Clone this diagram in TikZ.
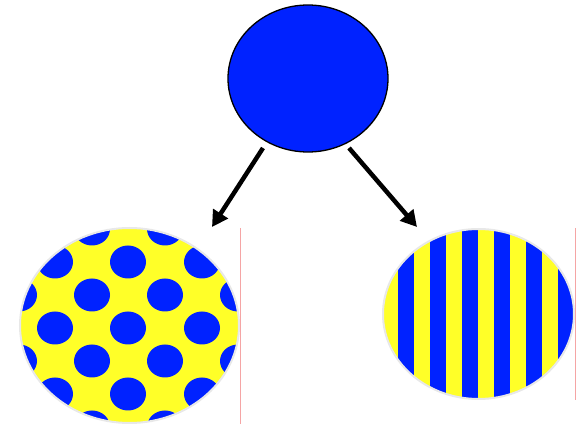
\documentclass[tikz,border=0pt]{standalone}
\usetikzlibrary{arrows.meta,shapes.geometric}
\definecolor{pblue}{RGB}{0,34,255}
\definecolor{pyellow}{RGB}{255,255,40}
\definecolor{rimgray}{RGB}{232,232,232}
\definecolor{pinkline}{RGB}{245,165,165}
\tikzset{
  topball/.style={ellipse, fill=pblue, draw=black, line width=1.3pt, inner sep=0pt,
    minimum width=160pt, minimum height=147pt},
  rim/.style={ellipse, draw=rimgray, line width=2pt, inner sep=0pt},
  bigarrow/.style={line width=4.5pt, -{Triangle[length=16pt,width=17pt]}},
  frameline/.style={draw=pinkline, line width=1pt},
}
\begin{document}
\begin{tikzpicture}[x=1pt,y=-1pt]
\useasboundingbox (0,0) rectangle (587,427);
% top ellipse
\node[topball] (top) at (308,78.5) {};
% left dotted ellipse
\begin{scope}
  \clip (129.5,325.5) ellipse [x radius=109.5pt, y radius=97.5pt];
  \fill[pyellow] (0,220) rectangle (245,427);
  \foreach \y in {229,295,361,427}
    \foreach \x in {19,92,165,238}
      \fill[pblue] (\x,\y) ellipse [x radius=18pt, y radius=16.5pt];
  \foreach \y in {262,328,394}
    \foreach \x in {-18,55,128,202,275}
      \fill[pblue] (\x,\y) ellipse [x radius=18pt, y radius=16.5pt];
\end{scope}
\node[rim, minimum width=219pt, minimum height=195pt] (dots) at (129.5,325.5) {};
% right striped ellipse
\begin{scope}
  \clip (478.5,314) ellipse [x radius=95.5pt, y radius=85pt];
  \fill[pyellow] (380,225) rectangle (580,405);
  \foreach \x in {398,430,462,494,526,558}
    \fill[pblue] (\x,225) rectangle ++(16,180);
\end{scope}
\node[rim, minimum width=191pt, minimum height=170pt] (stripes) at (478.5,314) {};
% frame lines
\coordinate (f1a) at (240,228);
\coordinate (f1b) at (240,424);
\coordinate (f2a) at (575,228);
\coordinate (f2b) at (575,400);
\draw[frameline] (f1a) -- (f1b);
\draw[frameline] (f2a) -- (f2b);
% arrows
\coordinate (a1s) at (263,148);
\coordinate (a1e) at (212,227);
\coordinate (a2s) at (349,148);
\coordinate (a2e) at (417,227);
\draw[bigarrow] (a1s) -- (a1e);
\draw[bigarrow] (a2s) -- (a2e);
\end{tikzpicture}
\end{document}
